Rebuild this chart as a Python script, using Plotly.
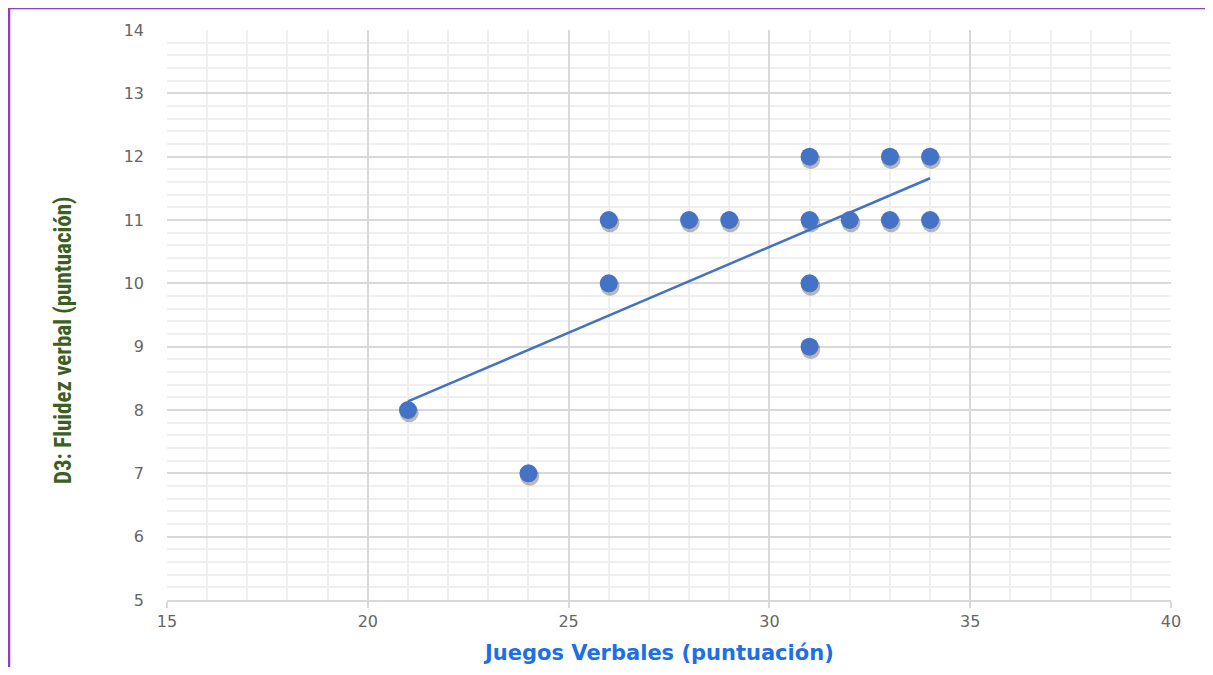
import numpy as np
import plotly.graph_objects as go

# Data
juegos_verbales = [21, 24, 26, 26, 28, 29, 31, 31, 31, 31, 32, 33, 33, 34, 34]
fluidez_verbal = [8, 7, 11, 10, 11, 11, 12, 11, 10, 9, 11, 12, 11, 12, 11]
x_ticks = [15, 20, 25, 30, 35, 40]
y_ticks = [5, 6, 7, 8, 9, 10, 11, 12, 13, 14]

xv = np.array(juegos_verbales, dtype=float)
yv = np.array(fluidez_verbal, dtype=float)
slope, intercept = np.polyfit(xv, yv, 1)
x_fit = np.array([xv.min(), xv.max()])
y_fit = slope * x_fit + intercept

blue = "#4472C4"

# figure geometry (page body adds an 8px offset)
W, H = 1197, 659
L, R, T, B = 159, 34, 22, 67
PW, PH = W - L - R, H - T - B


def px(xf):
    return (xf - L) / PW


def py(yf):
    return (H - B - yf) / PH


fig = go.Figure()
# soft shadow
fig.add_trace(go.Scatter(
    x=xv + 0.03, y=yv - 0.045, mode="markers",
    marker=dict(size=19, color="rgba(20,20,20,0.3)", line=dict(width=0)),
    hoverinfo="skip", showlegend=False))
fig.add_trace(go.Scatter(
    x=xv, y=yv, mode="markers",
    marker=dict(size=18, color=blue, line=dict(width=0)),
    showlegend=False))
fig.add_trace(go.Scatter(
    x=x_fit, y=y_fit, mode="lines",
    line=dict(color=blue, width=2.5), showlegend=False))

tick_font = dict(family="DejaVu Sans", size=16, color="#666666")

fig.update_layout(
    width=W, height=H,
    margin=dict(l=L, r=R, t=T, b=B),
    paper_bgcolor="white", plot_bgcolor="white",
    xaxis=dict(
        range=[15, 40], tickvals=x_ticks, showgrid=True,
        gridcolor="#d9d9d9", gridwidth=2,
        minor=dict(dtick=1, showgrid=True, gridcolor="#efefef", gridwidth=2),
        zeroline=False, showline=True, linecolor="#d9d9d9", linewidth=2,
        ticks="outside", ticklen=6, tickcolor="#d9d9d9", tickwidth=2,
        tickfont=tick_font,
    ),
    yaxis=dict(
        range=[5, 14], tickvals=y_ticks, showgrid=True,
        gridcolor="#d9d9d9", gridwidth=2,
        minor=dict(dtick=0.2, showgrid=True, gridcolor="#efefef", gridwidth=2),
        zeroline=False, showline=False,
        ticks="", ticklabelstandoff=22,
        tickfont=tick_font,
    ),
    annotations=[
        dict(text="<b>Juegos Verbales (puntuación)</b>", xref="paper", yref="paper",
             x=px(650), y=py(645), xanchor="center", yanchor="middle",
             showarrow=False, font=dict(family="DejaVu Sans", size=21, color="#1E6FE6")),
        dict(text="<b>D3: Fluidez verbal (puntuación)</b>", xref="paper", yref="paper",
             x=px(55), y=py(332), xanchor="center", yanchor="middle",
             textangle=-90, showarrow=False,
             font=dict(family="Liberation Sans Narrow, Roboto Condensed, Arial Narrow, sans-serif",
                       size=23, color="#3B5F1E")),
    ],
    shapes=[
        dict(type="line", xref="paper", yref="paper",
             x0=px(1), x1=px(1), y0=py(0), y1=py(H),
             line=dict(color="#8B3FC6", width=2.5)),
        dict(type="line", xref="paper", yref="paper",
             x0=px(0), x1=px(W), y0=py(0), y1=py(0),
             line=dict(color="#8B3FC6", width=2.5)),
    ],
)

fig.write_html("out.html")
